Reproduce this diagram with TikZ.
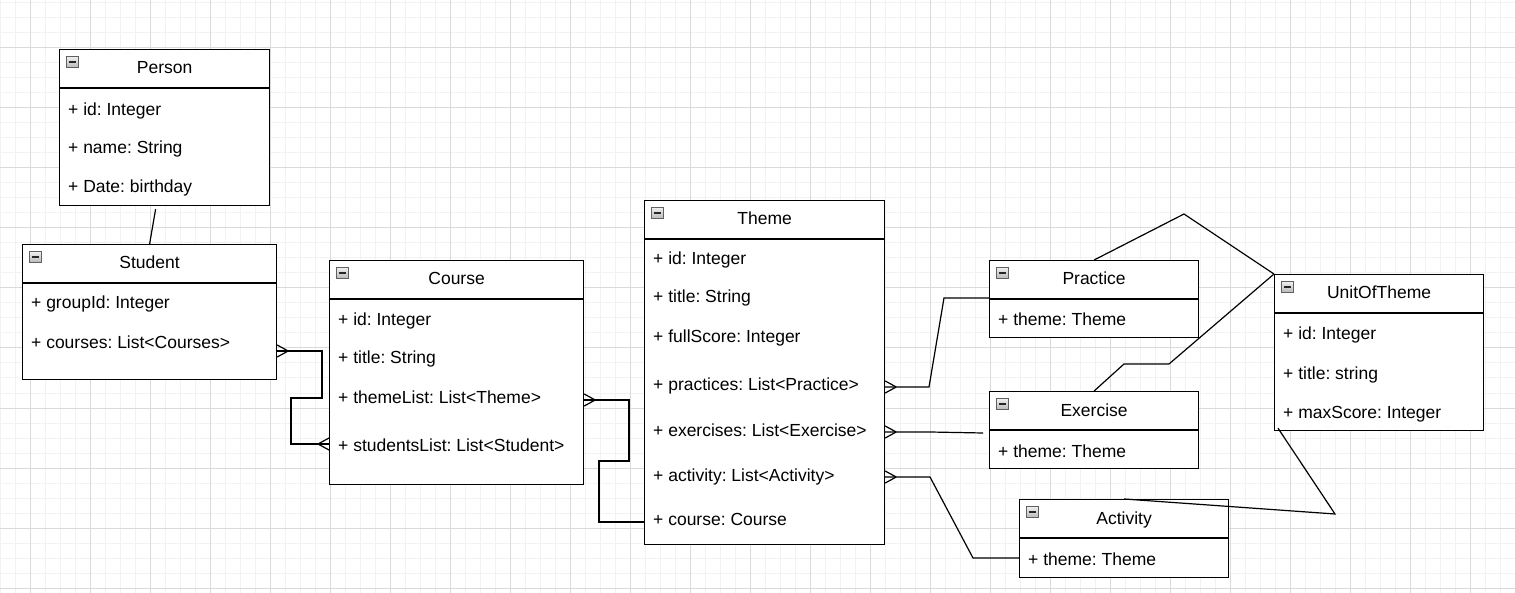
\documentclass[tikz,border=0pt]{standalone}
\usepackage{fontspec}
\setmainfont{Liberation Sans}
\usetikzlibrary{calc}
\frenchspacing
\definecolor{gridminor}{RGB}{242,242,242}
\definecolor{gridmajor}{RGB}{218,218,218}
\tikzset{
  gridminorline/.style={draw=gridminor, line width=1pt},
  gridmajorline/.style={draw=gridmajor, line width=1pt},
  clsbox/.style={draw=black, line width=1.2pt, fill=white, inner sep=0pt, anchor=north west},
  clsline/.style={draw=black, line width=1.2pt},
  clstitle/.style={anchor=base, inner sep=0pt, font=\fontsize{17.5}{21}\selectfont},
  attr/.style={anchor=base west, inner sep=0pt, font=\fontsize{17.5}{21}\selectfont},
  iconbox/.style={draw=gray!75!black, line width=0.6pt, minimum width=12pt, minimum height=11pt,
    inner sep=0pt, top color=gray!12, bottom color=gray!55,
    path picture={\draw[line width=1.4pt, black!85]
      ([xshift=2.5pt]path picture bounding box.west) -- ([xshift=-2.5pt]path picture bounding box.east);}},
  conn/.style={draw=black, line width=1.2pt, line join=miter},
  crowfoot/.pic={\draw[conn] (0,-6) -- (11,0) (0,6) -- (11,0);}
}
\newcommand\umlclass[6]{%
  \node[clsbox, minimum width=#4pt, minimum height=#5pt] (#1) at (#2,#3) {};
  \draw[clsline] ([yshift=-39pt]#1.north west) -- ([yshift=-39pt]#1.north east);
  \node[clstitle] (#1-title) at ([yshift=-25pt]#1.north) {#6};
  \node[iconbox] (#1-icon) at ([xshift=13pt,yshift=-13pt]#1.north west) {};
}
\newcommand\umlattr[4]{%
  \node[attr, xshift=9pt] (#1-#2) at (#1.west |- 0,#3) {#4};
}
\begin{document}
\begin{tikzpicture}[x=1pt,y=-1pt]
\useasboundingbox (0,0) rectangle (1515,593);
\fill[white] (0,0) rectangle (1515,593);
% grid
\foreach \x in {0,15,...,1515} \draw[gridminorline] (\x,0) -- (\x,593);
\foreach \y in {3,18,...,593} \draw[gridminorline] (0,\y) -- (1515,\y);
\foreach \x in {30,90,...,1515} \draw[gridmajorline] (\x,0) -- (\x,593);
\foreach \y in {48,108,...,593} \draw[gridmajorline] (0,\y) -- (1515,\y);

% classes
\umlclass{person}{59}{49}{210}{156}{Person}
\umlattr{person}{a1}{116}{+ id: Integer}
\umlattr{person}{a2}{154}{+ name: String}
\umlattr{person}{a3}{193}{+ Date: birthday}

\umlclass{student}{22}{244}{254}{135}{Student}
\umlattr{student}{a1}{309}{+ groupId: Integer}
\umlattr{student}{a2}{349}{+ courses: List<Courses>}

\umlclass{course}{329}{260}{254}{224}{Course}
\umlattr{course}{a1}{326}{+ id: Integer}
\umlattr{course}{a2}{364}{+ title: String}
\umlattr{course}{a3}{403}{+ themeList: List<Theme>}
\umlattr{course}{a4}{451}{+ studentsList: List<Student>}

\umlclass{theme}{644}{200}{240}{344}{Theme}
\umlattr{theme}{a1}{265}{+ id: Integer}
\umlattr{theme}{a2}{303}{+ title: String}
\umlattr{theme}{a3}{343}{+ fullScore: Integer}
\umlattr{theme}{a4}{391}{+ practices: List<Practice>}
\umlattr{theme}{a5}{436}{+ exercises: List<Exercise>}
\umlattr{theme}{a6}{481}{+ activity: List<Activity>}
\umlattr{theme}{a7}{525}{+ course: Course}

\umlclass{practice}{989}{260}{209}{77}{Practice}
\umlattr{practice}{a1}{326}{+ theme: Theme}

\umlclass{exercise}{989}{391}{209}{77}{Exercise}
\umlattr{exercise}{a1}{457}{+ theme: Theme}

\umlclass{activity}{1019}{499}{209}{78}{Activity}
\umlattr{activity}{a1}{565}{+ theme: Theme}

\umlclass{unit}{1274}{274}{209}{156}{UnitOfTheme}
\umlattr{unit}{a1}{340}{+ id: Integer}
\umlattr{unit}{a2}{380}{+ title: string}
\umlattr{unit}{a3}{418}{+ maxScore: Integer}

% connectors
\draw[conn] ([xshift=-9pt,yshift=-3pt]person.south) -- (student.north);

\coordinate (c1s) at (student.east |- 0,351);
\coordinate (c1e) at (course.west |- 0,444);
\draw[conn] (c1s) -- (322,351) -- (322,398) -- (291,398) -- (291,444) -- (c1e);
\pic at (c1s) {crowfoot};
\pic[rotate=180] at (c1e) {crowfoot};

\coordinate (c2s) at (course.east |- 0,400);
\draw[conn] (c2s) -- (629,400) -- (629,461) -- (599,461) -- (599,522) -- (theme.west |- 0,522);
\pic at (c2s) {crowfoot};

\coordinate (c3s) at (theme.east |- 0,387);
\draw[conn] (c3s) -- (929,387) -- (944,298) -- (practice.west |- 0,298);
\pic at (c3s) {crowfoot};

\coordinate (c4s) at (theme.east |- 0,432);
\coordinate (c4e) at (983,433);
\draw[conn] (c4s) -- (930,432) -- (c4e);
\pic at (c4s) {crowfoot};

\coordinate (c5s) at (theme.east |- 0,477);
\draw[conn] (c5s) -- (930,477) -- (973,558) -- (activity.west |- 0,558);
\pic at (c5s) {crowfoot};

\draw[conn] (practice.north) -- (1184,214) -- (unit.north west);
\draw[conn] (exercise.north) -- (1124,364) -- (1169,364) -- (unit.north west);
\draw[conn] (activity.north) -- (1335,514) -- ([xshift=4pt,yshift=3pt]unit.south west);
\end{tikzpicture}
\end{document}
